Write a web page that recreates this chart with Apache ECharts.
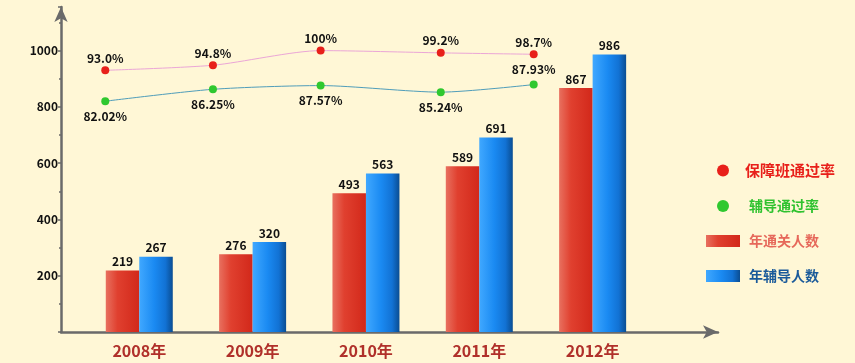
<!DOCTYPE html>
<html><head><meta charset="utf-8">
<script src="https://cdn.jsdelivr.net/npm/echarts@6/dist/echarts.min.js"></script>
<style>html,body{margin:0;padding:0;background:#fff7d6}#c{width:855px;height:363px}</style>
</head><body><div id="c"></div>
<script>
const years = ['2008年', '2009年', '2010年', '2011年', '2012年'];
const passCount = [219, 276, 493, 589, 867];
const tutorCount = [267, 320, 563, 691, 986];
const classRate = [93.0, 94.8, 100, 99.2, 98.7];
const classRateText = ['93.0%', '94.8%', '100%', '99.2%', '98.7%'];
const tutorRate = [82.02, 86.25, 87.57, 85.24, 87.93];
const tutorRateText = ['82.02%', '86.25%', '87.57%', '85.24%', '87.93%'];
const rateX = [-0.3, 0.65, 1.6, 2.66, 3.48];
const yTicks = [200, 400, 600, 800, 1000];

const FONT = '"Noto Sans CJK SC", "Noto Sans", sans-serif';
const chart = echarts.init(document.getElementById('c'));

const redGrad = new echarts.graphic.LinearGradient(0, 0, 1, 0, [
  {offset: 0, color: '#e8705f'}, {offset: 0.35, color: '#e0402f'}, {offset: 1, color: '#d2281a'}
]);
const blueGrad = new echarts.graphic.LinearGradient(0, 0, 1, 0, [
  {offset: 0, color: '#40a8ff'}, {offset: 0.45, color: '#1a8af2'}, {offset: 0.78, color: '#1272d4'}, {offset: 1, color: '#0a4d92'}
]);

const valueLabel = {show: true, position: 'top', distance: 3, color: '#111', fontWeight: 'bold', fontSize: 12, fontFamily: FONT};

chart.setOption({
  backgroundColor: '#fff7d6',
  animation: false,
  textStyle: {fontFamily: FONT},
  grid: [
    {left: 61, right: 137, top: 7, bottom: 31},
    {left: 82.6, width: 566.7, top: 7, bottom: 31}
  ],
  xAxis: [
    {gridIndex: 0, type: 'value', min: 0, max: 1,
      axisLine: {show: true, lineStyle: {color: '#6a6a6a', width: 2.5}, symbol: ['none', 'arrow'], symbolSize: [10, 15]},
      axisTick: {show: false}, axisLabel: {show: false}, splitLine: {show: false}},
    {gridIndex: 1, type: 'category', data: years,
      axisLine: {show: false}, axisTick: {show: false},
      axisLabel: {color: '#b0302a', fontWeight: 'bold', fontSize: 16, fontFamily: FONT, margin: 11}},
    {gridIndex: 1, type: 'value', min: -0.5, max: 4.5, show: false}
  ],
  yAxis: [
    {gridIndex: 0, type: 'value', min: 0, max: 1155, interval: 200,
      axisLine: {show: true, lineStyle: {color: '#6a6a6a', width: 2.5}, symbol: ['none', 'arrow'], symbolSize: [10, 15]},
      axisTick: {show: true, length: 3, lineStyle: {color: '#6a6a6a', width: 1.5}},
      minorTick: {show: true, splitNumber: 2, length: 2, lineStyle: {color: '#6a6a6a', width: 1.5}},
      splitLine: {show: false},
      axisLabel: {margin: 3, color: '#111', fontWeight: 'bold', fontSize: 12, fontFamily: FONT,
        formatter: v => yTicks.includes(v) ? String(v) : ''}},
    {gridIndex: 1, type: 'value', min: 0, max: 1155, show: false},
    {gridIndex: 1, type: 'value', min: 0, max: 115.5, show: false}
  ],
  legend: {
    orient: 'vertical', left: 701, top: 158, itemWidth: 34, itemHeight: 12, itemGap: 21,
    textStyle: {fontWeight: 'bold', fontSize: 15, fontFamily: FONT, padding: [0, 0, 0, 0]},
    data: [
      {name: '保障班通过率', icon: 'circle', textStyle: {color: '#e8201a'}},
      {name: '辅导通过率', icon: 'circle', textStyle: {color: '#2fc22f', padding: [0, 0, 0, 4], fontSize: 14}},
      {name: '年通关人数', icon: 'rect', textStyle: {color: '#e6685a', padding: [0, 0, 0, 4], fontSize: 14}},
      {name: '年辅导人数', icon: 'rect', textStyle: {color: '#1a5a9a', padding: [0, 0, 0, 4], fontSize: 14}}
    ]
  },
  series: [
    {name: '年通关人数', type: 'bar', xAxisIndex: 1, yAxisIndex: 1, data: passCount,
      barWidth: 33.5, barGap: '0%', itemStyle: {color: redGrad}, label: valueLabel},
    {name: '年辅导人数', type: 'bar', xAxisIndex: 1, yAxisIndex: 1, data: tutorCount,
      barWidth: 33.5, barGap: '0%', itemStyle: {color: blueGrad}, label: valueLabel},
    {name: '保障班通过率', type: 'line', xAxisIndex: 2, yAxisIndex: 2, smooth: 0.25,
      data: rateX.map((x, i) => ({value: [x, classRate[i]], text: classRateText[i]})),
      symbol: 'circle', symbolSize: 8,
      itemStyle: {color: '#e8201a'}, lineStyle: {color: '#eba6d6', width: 1},
      label: {show: true, position: 'top', distance: 2, color: '#111', fontWeight: 'bold', fontSize: 12, fontFamily: FONT,
        formatter: p => p.data.text}},
    {name: '辅导通过率', type: 'line', xAxisIndex: 2, yAxisIndex: 2, smooth: 0.25,
      data: rateX.map((x, i) => ({value: [x, tutorRate[i]], text: tutorRateText[i],
        label: i === 4 ? {position: 'top'} : undefined})),
      symbol: 'circle', symbolSize: 8,
      itemStyle: {color: '#2fc82f'}, lineStyle: {color: '#4f9dba', width: 1},
      label: {show: true, position: 'bottom', distance: 5, color: '#111', fontWeight: 'bold', fontSize: 12, fontFamily: FONT,
        formatter: p => p.data.text}}
  ]
});
</script></body></html>
